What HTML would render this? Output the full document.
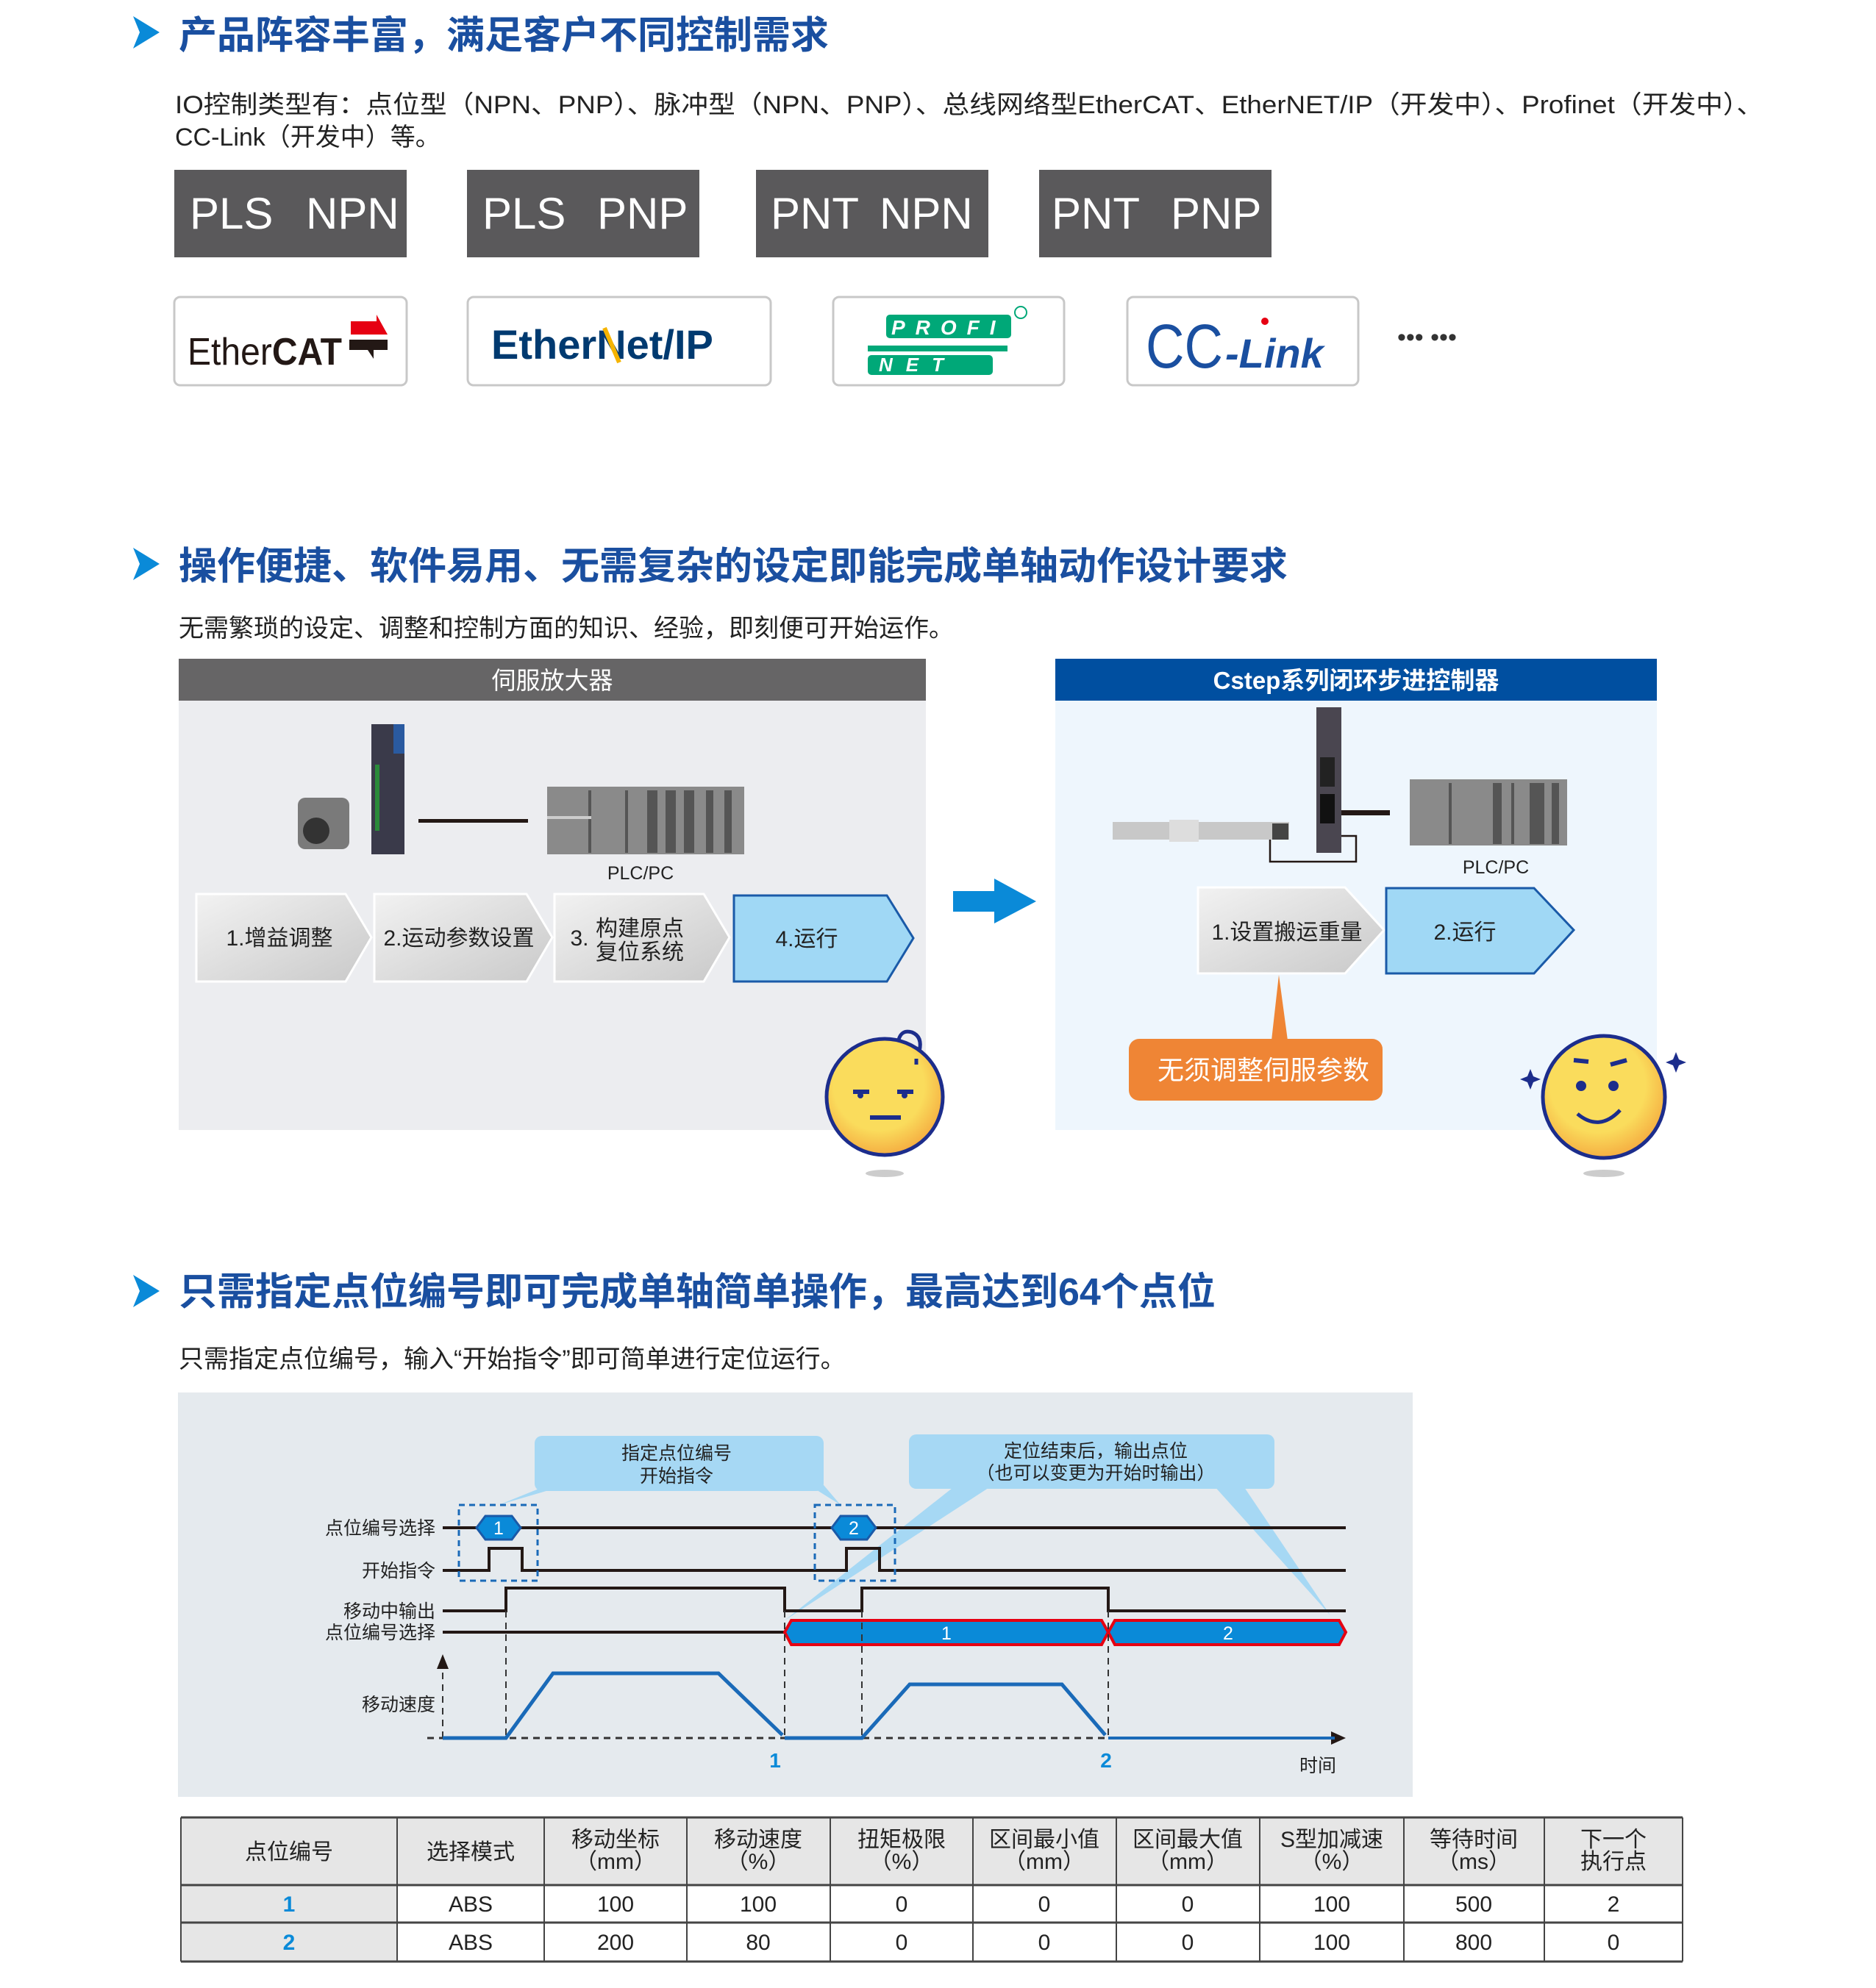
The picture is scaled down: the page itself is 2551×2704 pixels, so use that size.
<!DOCTYPE html>
<html><head><meta charset="utf-8"><style>
html,body{margin:0;padding:0;background:#fff}
svg{display:block}
text{font-family:"Liberation Sans","Noto Sans CJK SC",sans-serif}
</style></head><body>
<svg width="2551" height="2704" viewBox="0 0 2551 2704" xmlns="http://www.w3.org/2000/svg">
<defs>
<linearGradient id="chg" x1="0" y1="0" x2="1" y2="1">
<stop offset="0" stop-color="#f2f2f2"/><stop offset="1" stop-color="#c9c9c9"/></linearGradient>
<radialGradient id="face" cx="0.45" cy="0.4" r="0.65">
<stop offset="0.6" stop-color="#fadc5c"/><stop offset="1" stop-color="#f4a43c"/></radialGradient>
</defs>

<!-- Section 1 -->
<polygon points="181,22 217,44 181,66 190,44" fill="#0a8ad8"/>
<text x="243" y="66" font-size="52" font-weight="bold" fill="#1a4fa0">产品阵容丰富，满足客户不同控制需求</text>
<text x="238" y="154" font-size="34" fill="#222" textLength="2160" lengthAdjust="spacingAndGlyphs">IO控制类型有：点位型（NPN、PNP）、脉冲型（NPN、PNP）、总线网络型EtherCAT、EtherNET/IP（开发中）、Profinet（开发中）、</text>
<text x="238" y="198" font-size="34" fill="#222">CC-Link（开发中）等。</text>

<g fill="#5a595b"><rect x="237" y="231" width="316" height="119"/><rect x="635" y="231" width="316" height="119"/><rect x="1028" y="231" width="316" height="119"/><rect x="1413" y="231" width="316" height="119"/></g>
<g fill="#fff" font-size="60">
<text x="258" y="311">PLS</text><text x="416" y="311">NPN</text>
<text x="656" y="311">PLS</text><text x="812" y="311">PNP</text>
<text x="1048" y="311">PNT</text><text x="1196" y="311">NPN</text>
<text x="1430" y="311">PNT</text><text x="1592" y="311">PNP</text></g>

<g fill="#fff" stroke="#c8c8c8" stroke-width="3">
<rect x="237" y="404" width="316" height="120" rx="8"/><rect x="636" y="404" width="412" height="120" rx="8"/>
<rect x="1133" y="404" width="314" height="120" rx="8"/><rect x="1533" y="404" width="314" height="120" rx="8"/></g>
<text x="255" y="496" font-size="52" fill="#231815" textLength="210" lengthAdjust="spacingAndGlyphs">Ether<tspan font-weight="bold">CAT</tspan></text>
<polygon points="477,437 512,437 512,428 527,455 477,455" fill="#e60012"/>
<polygon points="475,462 527,462 527,476 508,476 508,488 500,476 475,476" fill="#231815"/>
<text x="668" y="488" font-size="56" font-weight="bold" fill="#003a70">Ether<tspan fill="#003a70">N</tspan>et/IP</text>
<line x1="822" y1="446" x2="842" y2="493" stroke="#f5b400" stroke-width="6"/>
<g fill="#00a878">
<rect x="1205" y="428" width="170" height="32" rx="5"/><rect x="1180" y="470" width="190" height="8"/><rect x="1180" y="483" width="170" height="27" rx="5"/></g>
<text x="1212" y="455" font-size="28" font-weight="bold" font-style="italic" fill="#fff" letter-spacing="14">PROFI</text>
<text x="1195" y="505" font-size="26" font-weight="bold" font-style="italic" fill="#fff" letter-spacing="18">NET</text>
<circle cx="1388" cy="425" r="8" fill="none" stroke="#00a878" stroke-width="2"/>
<text x="1558" y="500" font-size="84" fill="#1a4fa0" textLength="105" lengthAdjust="spacingAndGlyphs">CC</text>
<text x="1666" y="500" font-size="56" font-style="italic" font-weight="bold" fill="#1a4fa0">-Link</text>
<circle cx="1720" cy="437" r="5" fill="#e60012"/>
<text x="1900" y="470" font-size="34" fill="#333">••• •••</text>

<!-- Section 2 -->
<polygon points="181,745 217,767 181,789 190,767" fill="#0a8ad8"/>
<text x="243" y="788" font-size="52" font-weight="bold" fill="#1a4fa0">操作便捷、软件易用、无需复杂的设定即能完成单轴动作设计要求</text>
<text x="243" y="866" font-size="34" fill="#222">无需繁琐的设定、调整和控制方面的知识、经验，即刻便可开始运作。</text>

<rect x="243" y="896" width="1016" height="641" fill="#ecedf0"/>
<rect x="243" y="896" width="1016" height="57" fill="#666566"/>
<text x="751" y="937" font-size="33" fill="#fff" text-anchor="middle">伺服放大器</text>
<rect x="1435" y="896" width="818" height="641" fill="#eef6fd"/>
<rect x="1435" y="896" width="818" height="57" fill="#004fa0"/>
<text x="1844" y="937" font-size="33" font-weight="bold" fill="#fff" text-anchor="middle">Cstep系列闭环步进控制器</text>

<!-- left devices -->
<rect x="405" y="1085" width="70" height="70" rx="10" fill="#7a7a7a"/><circle cx="430" cy="1130" r="18" fill="#333"/>
<rect x="505" y="985" width="45" height="177" fill="#3a3a4a"/><rect x="535" y="985" width="15" height="40" fill="#2a5aa0"/>
<rect x="510" y="1040" width="6" height="90" fill="#2a8a3a"/>
<rect x="569" y="1114" width="149" height="5" fill="#231815"/>
<rect x="744" y="1070" width="268" height="92" fill="#8a8a8a"/>
<g fill="#555"><rect x="800" y="1075" width="4" height="85"/><rect x="850" y="1075" width="4" height="85"/><rect x="880" y="1075" width="14" height="85"/><rect x="905" y="1075" width="14" height="85"/><rect x="930" y="1075" width="14" height="85"/><rect x="960" y="1075" width="10" height="85"/><rect x="985" y="1075" width="10" height="85"/></g>
<rect x="744" y="1110" width="60" height="4" fill="#ccc"/>
<text x="871" y="1196" font-size="25" fill="#222" text-anchor="middle">PLC/PC</text>

<!-- left chevrons -->
<g stroke="#fff" stroke-width="3" fill="url(#chg)">
<polygon points="267,1216 470,1216 505,1275 470,1335 267,1335"/>
<polygon points="509,1216 716,1216 751,1275 716,1335 509,1335"/>
<polygon points="754,1216 957,1216 992,1275 957,1335 754,1335"/></g>
<polygon points="998,1218 1206,1218 1242,1276 1206,1335 998,1335" fill="#a0d8f5" stroke="#1a5aa8" stroke-width="3"/>
<g font-size="30" fill="#222" text-anchor="middle">
<text x="380" y="1286">1.增益调整</text><text x="624" y="1286">2.运动参数设置</text>
<text x="788" y="1286">3.</text><text x="870" y="1273">构建原点</text><text x="870" y="1305">复位系统</text>
<text x="1097" y="1287">4.运行</text></g>

<polygon points="1296,1212 1352,1212 1352,1195 1409,1226 1352,1256 1352,1240 1296,1240" fill="#0a8ad8"/>

<!-- right devices -->
<rect x="1513" y="1118" width="240" height="24" fill="#c8c8c8"/><rect x="1590" y="1115" width="40" height="30" fill="#ddd"/><rect x="1730" y="1120" width="22" height="22" fill="#444"/>
<rect x="1790" y="962" width="34" height="198" fill="#4a4650"/>
<rect x="1795" y="1030" width="20" height="40" fill="#222"/><rect x="1795" y="1080" width="20" height="40" fill="#111"/>
<rect x="1824" y="1102" width="66" height="7" fill="#231815"/>
<polyline points="1727,1142 1727,1172 1844,1172 1844,1137 1824,1137" fill="none" stroke="#231815" stroke-width="2.5"/>
<rect x="1917" y="1060" width="214" height="90" fill="#8a8a8a"/>
<g fill="#555"><rect x="1970" y="1065" width="4" height="83"/><rect x="2030" y="1065" width="12" height="83"/><rect x="2055" y="1065" width="4" height="83"/><rect x="2080" y="1065" width="20" height="83"/><rect x="2110" y="1065" width="10" height="83"/></g>
<text x="2034" y="1188" font-size="25" fill="#222" text-anchor="middle">PLC/PC</text>

<polygon points="1629,1207 1829,1207 1882,1265 1829,1324 1629,1324" fill="url(#chg)" stroke="#fff" stroke-width="3"/>
<polygon points="1885,1208 2086,1208 2140,1265 2086,1324 1885,1324" fill="#a0d8f5" stroke="#1a5aa8" stroke-width="3"/>
<text x="1750" y="1278" font-size="30" fill="#222" text-anchor="middle">1.设置搬运重量</text>
<text x="1992" y="1278" font-size="30" fill="#222" text-anchor="middle">2.运行</text>
<polygon points="1739,1326 1729,1415 1751,1415" fill="#ef8535"/>
<rect x="1535" y="1413" width="345" height="84" rx="14" fill="#ef8535"/>
<text x="1718" y="1468" font-size="36" fill="#fff" text-anchor="middle">无须调整伺服参数</text>

<!-- faces -->
<ellipse cx="1203" cy="1596" rx="26" ry="5" fill="#ccc"/>
<circle cx="1203" cy="1492" r="79" fill="url(#face)" stroke="#1c2d8c" stroke-width="5"/>
<path d="M1250,1430 q5,-20 -10,-26 q-14,-4 -18,10 M1246,1440 l0,8" fill="none" stroke="#1c2d8c" stroke-width="5"/>
<path d="M1160,1485 l22,0 M1220,1485 l22,0 M1183,1520 l42,0" stroke="#1c2d8c" stroke-width="6"/>
<circle cx="1170" cy="1490" r="4" fill="#1c2d8c"/><circle cx="1230" cy="1490" r="4" fill="#1c2d8c"/>
<ellipse cx="2181" cy="1596" rx="28" ry="5" fill="#ccc"/>
<circle cx="2181" cy="1492" r="83" fill="url(#face)" stroke="#1c2d8c" stroke-width="5"/>
<path d="M2140,1442 l20,2 M2190,1448 l22,-6" stroke="#1c2d8c" stroke-width="6" fill="none"/>
<circle cx="2150" cy="1477" r="7" fill="#1c2d8c"/><circle cx="2194" cy="1477" r="7" fill="#1c2d8c"/>
<path d="M2145,1515 q30,25 58,-5" stroke="#1c2d8c" stroke-width="5" fill="none"/>
<path d="M2077,1464 l4,-10 l4,10 l10,4 l-10,4 l-4,10 l-4,-10 l-10,-4 z" fill="#1c2d8c"/>
<path d="M2275,1441 l4,-10 l4,10 l10,4 l-10,4 l-4,10 l-4,-10 l-10,-4 z" fill="#1c2d8c"/>

<!-- Section 3 -->
<polygon points="181,1734 217,1756 181,1778 190,1756" fill="#0a8ad8"/>
<text x="243" y="1775" font-size="52" font-weight="bold" fill="#1a4fa0">只需指定点位编号即可完成单轴简单操作，最高达到64个点位</text>
<text x="243" y="1860" font-size="34" fill="#222">只需指定点位编号，输入“开始指令”即可简单进行定位运行。</text>

<rect x="242" y="1894" width="1679" height="550" fill="#e5eaee"/>
<!-- callouts -->
<g fill="#a6d8f4">
<rect x="727" y="1953" width="393" height="75" rx="10"/>
<polygon points="745,2020 770,2020 678,2047"/><polygon points="1100,2020 1120,2020 1143,2047"/>
<rect x="1236" y="1951" width="497" height="74" rx="10"/>
<polygon points="1300,2020 1350,2020 1067,2204"/><polygon points="1650,2020 1690,2020 1809,2197"/></g>
<g font-size="25" fill="#222" text-anchor="middle">
<text x="920" y="1985">指定点位编号</text><text x="920" y="2016">开始指令</text>
<text x="1490" y="1982">定位结束后，输出点位</text><text x="1490" y="2012">（也可以变更为开始时输出）</text></g>

<g font-size="25" fill="#222" text-anchor="end">
<text x="592" y="2087">点位编号选择</text><text x="592" y="2145">开始指令</text>
<text x="592" y="2200">移动中输出</text><text x="592" y="2229">点位编号选择</text><text x="592" y="2327">移动速度</text></g>

<g stroke="#231815" stroke-width="4" fill="none">
<line x1="602" y1="2078" x2="1830" y2="2078"/>
<polyline points="602,2136 665,2136 665,2106 710,2106 710,2136 1151,2136 1151,2106 1196,2106 1196,2136 1830,2136"/>
<polyline points="602,2191 688,2191 688,2160 1067,2160 1067,2191 1172,2191 1172,2160 1507,2160 1507,2191 1830,2191"/>
<line x1="602" y1="2220" x2="1067" y2="2220"/></g>
<g fill="#0a8ad8" stroke="#1a5aa8" stroke-width="3">
<polygon points="648,2078 660,2062 696,2062 708,2078 696,2094 660,2094"/>
<polygon points="1131,2078 1143,2062 1179,2062 1191,2078 1179,2094 1143,2094"/></g>
<text x="678" y="2087" font-size="25" fill="#fff" text-anchor="middle">1</text>
<text x="1161" y="2087" font-size="25" fill="#fff" text-anchor="middle">2</text>
<g fill="none" stroke="#1a6ab8" stroke-width="3" stroke-dasharray="8,6">
<rect x="624" y="2047" width="107" height="103"/><rect x="1108" y="2047" width="109" height="103"/></g>
<g fill="#0a8ad8" stroke="#e60012" stroke-width="4">
<polygon points="1067,2220 1076,2204 1498,2204 1507,2220 1498,2237 1076,2237"/>
<polygon points="1507,2220 1516,2204 1821,2204 1830,2220 1821,2237 1516,2237"/></g>
<text x="1287" y="2230" font-size="25" fill="#fff" text-anchor="middle">1</text>
<text x="1670" y="2230" font-size="25" fill="#fff" text-anchor="middle">2</text>

<g stroke="#333" stroke-width="2" stroke-dasharray="9,7" fill="none">
<line x1="602" y1="2364" x2="602" y2="2270"/>
<line x1="688" y1="2191" x2="688" y2="2364"/><line x1="1067" y1="2191" x2="1067" y2="2364"/>
<line x1="1172" y1="2191" x2="1172" y2="2364"/><line x1="1507" y1="2191" x2="1507" y2="2364"/>
<line x1="581" y1="2364" x2="1815" y2="2364" stroke-width="3"/></g>
<polygon points="602,2250 594,2270 610,2270" fill="#231815"/>
<polygon points="1830,2364 1810,2355 1810,2373" fill="#231815"/>
<polyline points="602,2364 688,2364 752,2276 977,2276 1064,2360" fill="none" stroke="#1a6ab8" stroke-width="5"/>
<polyline points="1067,2364 1172,2364 1237,2291 1444,2291 1503,2360" fill="none" stroke="#1a6ab8" stroke-width="5"/>
<line x1="1507" y1="2364" x2="1815" y2="2364" stroke="#1a6ab8" stroke-width="4"/>
<text x="1054" y="2404" font-size="28" font-weight="bold" fill="#0a8ad8" text-anchor="middle">1</text>
<text x="1504" y="2404" font-size="28" font-weight="bold" fill="#0a8ad8" text-anchor="middle">2</text>
<text x="1792" y="2410" font-size="25" fill="#222" text-anchor="middle">时间</text>

<!-- table -->
<rect x="246" y="2472" width="2042" height="92" fill="#e6e6e6"/>
<rect x="246" y="2564" width="294" height="104" fill="#e6e6e6"/>
<g stroke="#444" stroke-width="2">
<line x1="246" y1="2472" x2="2288" y2="2472" stroke-width="3"/><line x1="246" y1="2564" x2="2288" y2="2564" stroke-width="3"/>
<line x1="246" y1="2615" x2="2288" y2="2615" stroke-width="3"/><line x1="246" y1="2668" x2="2288" y2="2668" stroke-width="3"/>
<line x1="246" y1="2472" x2="246" y2="2668"/><line x1="540" y1="2472" x2="540" y2="2668"/><line x1="740" y1="2472" x2="740" y2="2668"/>
<line x1="934" y1="2472" x2="934" y2="2668"/><line x1="1129" y1="2472" x2="1129" y2="2668"/><line x1="1323" y1="2472" x2="1323" y2="2668"/>
<line x1="1518" y1="2472" x2="1518" y2="2668"/><line x1="1713" y1="2472" x2="1713" y2="2668"/><line x1="1909" y1="2472" x2="1909" y2="2668"/>
<line x1="2100" y1="2472" x2="2100" y2="2668"/><line x1="2288" y1="2472" x2="2288" y2="2668"/></g>
<g font-size="30" fill="#222" text-anchor="middle">
<text x="393" y="2529">点位编号</text><text x="640" y="2529">选择模式</text>
<text x="837" y="2512">移动坐标</text><text x="837" y="2542">（mm）</text>
<text x="1031" y="2512">移动速度</text><text x="1031" y="2542">（%）</text>
<text x="1226" y="2512">扭矩极限</text><text x="1226" y="2542">（%）</text>
<text x="1420" y="2512">区间最小值</text><text x="1420" y="2542">（mm）</text>
<text x="1615" y="2512">区间最大值</text><text x="1615" y="2542">（mm）</text>
<text x="1811" y="2512">S型加减速</text><text x="1811" y="2542">（%）</text>
<text x="2004" y="2512">等待时间</text><text x="2004" y="2542">（ms）</text>
<text x="2194" y="2512">下一个</text><text x="2194" y="2542">执行点</text>
<text x="393" y="2600" fill="#0a8ad8" font-weight="bold">1</text><text x="640" y="2600">ABS</text><text x="837" y="2600">100</text><text x="1031" y="2600">100</text><text x="1226" y="2600">0</text><text x="1420" y="2600">0</text><text x="1615" y="2600">0</text><text x="1811" y="2600">100</text><text x="2004" y="2600">500</text><text x="2194" y="2600">2</text>
<text x="393" y="2652" fill="#0a8ad8" font-weight="bold">2</text><text x="640" y="2652">ABS</text><text x="837" y="2652">200</text><text x="1031" y="2652">80</text><text x="1226" y="2652">0</text><text x="1420" y="2652">0</text><text x="1615" y="2652">0</text><text x="1811" y="2652">100</text><text x="2004" y="2652">800</text><text x="2194" y="2652">0</text></g>
</svg>
</body></html>
